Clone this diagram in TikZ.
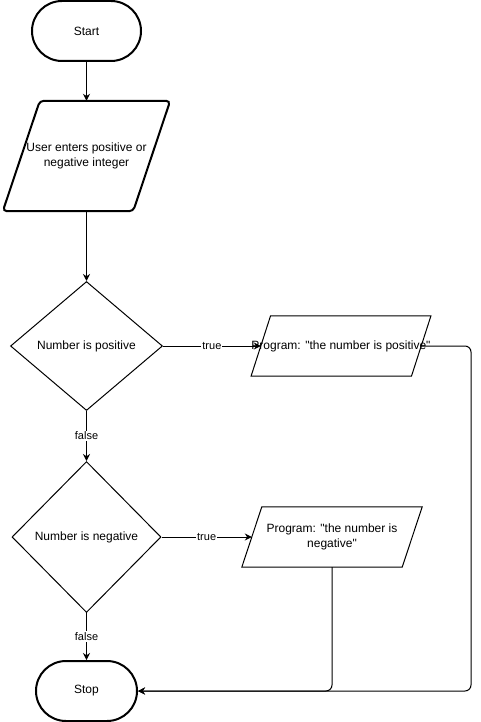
\documentclass[tikz,border=0pt]{standalone}
\usepackage{fontspec}
\setmainfont{Liberation Sans}[Ligatures=TeXOff]
\usetikzlibrary{shapes.geometric,arrows.meta}
\begin{document}
\begin{tikzpicture}[x=1pt,y=-1pt,
  base/.style={font=\fontsize{12}{15.5}\selectfont, text=black, align=center},
  term/.style={base, draw, line width=2pt, rounded corners=30pt, minimum width=105pt, minimum height=60pt, inner sep=0pt},
  pgram/.style={base, draw=none, inner sep=0pt, minimum height=60pt},
  dec/.style={base, draw, line width=1pt, shape=diamond, inner sep=0pt},
  arr/.style={-{Stealth[length=7pt,width=7pt]}, line width=1pt},
  lbl/.style={font=\fontsize{11}{13}\selectfont, fill=white, inner sep=1pt}
]
\useasboundingbox (0,0) rectangle (480,722);

% nodes
\node[term, minimum width=109pt] (start) at (86.5,31) {Start};
\node[pgram, minimum width=130pt, minimum height=110pt] (user) at (86.5,156) {User enters positive or\\negative integer};
\draw[line width=2pt, rounded corners=4pt]
  ([xshift=18.5pt]user.north west) -- ([xshift=18.5pt]user.north east) --
  ([xshift=-18.5pt]user.south east) -- ([xshift=-18.5pt]user.south west) -- cycle;

\node[dec, minimum width=152pt, minimum height=129pt] (d1) at (86.5,346) {Number is positive};
\node[pgram, minimum width=160pt] (p1) at (341,346) {};
\draw[line width=1pt]
  ([xshift=9.75pt]p1.north west) -- ([xshift=9.75pt]p1.north east) --
  ([xshift=-9.75pt]p1.south east) -- ([xshift=-9.75pt]p1.south west) -- cycle;

\node[dec, minimum width=149pt, minimum height=151pt] (d2) at (86.5,537) {Number is negative};
\node[pgram, minimum width=160pt] (p2) at (332,537) {Program: "the number is\\negative"};
\draw[line width=1pt]
  ([xshift=10pt]p2.north west) -- ([xshift=10pt]p2.north east) --
  ([xshift=-10pt]p2.south east) -- ([xshift=-10pt]p2.south west) -- cycle;

\node[term, minimum width=101pt] (stop) at (86.5,691) {Stop};

\coordinate (c1) at (471,346);
\coordinate (c2) at (471,691);

% connectors
\draw[arr] (start) -- (user);
\draw[arr] (user) -- (d1);
\draw[arr] (d1) -- node[lbl]{true} (p1);
\draw[arr] (d1) -- node[lbl]{false} (d2);
\draw[arr] (d2) -- node[lbl]{true} (p2);
\draw[arr] (d2) -- node[lbl]{false} (stop);
\draw[arr, rounded corners=6pt] (p1.east) -- (c1) -- (c2) -- (stop.east);
\draw[arr, rounded corners=6pt] (p2.south) |- (stop.east);

% text of p1 drawn over the connectors, as in the reference
\node[base] (p1t) at (p1.center) {Program: "the number is positive"};
\end{tikzpicture}
\end{document}
